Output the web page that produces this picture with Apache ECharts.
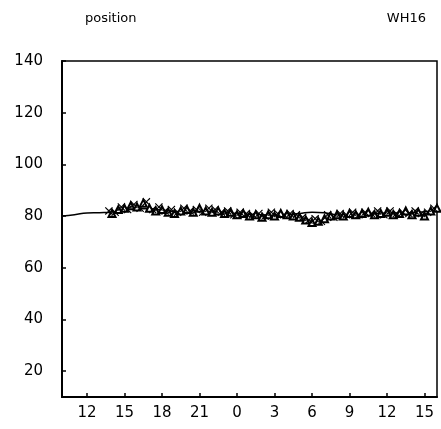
<!DOCTYPE html>
<html>
<head>
<meta charset="utf-8">
<script src="https://cdn.jsdelivr.net/npm/echarts@6/dist/echarts.min.js"></script>
<style>html,body{margin:0;padding:0;background:#fff}#c{width:441px;height:429px}</style>
</head>
<body>
<div id="c"></div>
<script>
// Tick labels
const xTickHours = [12, 15, 18, 21, 24, 27, 30, 33, 36, 39];
const yTickValues = [20, 40, 60, 80, 100, 120, 140];

// Fitted smooth curve (hour since start day 0:00, value)
const fitHours  = [10, 11, 12, 13, 14, 15, 16, 17, 18, 19, 20, 21, 22, 23, 24, 25, 26, 27, 28, 29, 30, 31, 32, 33, 34, 35, 36, 37, 38, 39, 40];
const fitValues = [80, 80.5, 81.2, 81.3, 81.5, 82.3, 82.8, 82.8, 82.3, 81.8, 81.8, 82, 81.8, 81.4, 81, 80.7, 80.5, 80.3, 80.5, 81, 81.5, 81.3, 80.5, 80.3, 80.6, 81, 81.2, 81.2, 81.3, 81.7, 82.3];

// Observations shown as triangles
const triHours = [14, 14.5, 15, 15.5, 16, 16.5, 17, 17.5, 18, 18.5, 19, 19.5, 20, 20.5, 21, 21.5, 22, 22.5, 23, 23.5, 24, 24.5, 25, 25.5, 26, 26.5, 27, 27.5, 28, 28.5, 29, 29.5, 30, 30.5, 31, 31.5, 32, 32.5, 33, 33.5, 34, 34.5, 35, 35.5, 36, 36.5, 37, 37.5, 38, 38.5, 39, 39.5, 40];
const triValues = [81, 82.5, 83, 84, 83.5, 85, 83, 82, 82.5, 81.5, 81, 82, 82.5, 81.5, 83, 82, 81.5, 82, 81, 81.5, 80.5, 81, 80, 80.5, 79.5, 80.5, 80, 81, 80.5, 80, 79.5, 78.5, 77.5, 78, 79, 80, 80.5, 80, 81, 80.5, 81, 81.5, 80.5, 81, 81.5, 80.5, 81, 82, 80.5, 81.5, 80, 82, 83];

// Observations shown as crosses
const crossHours = [13.75, 14.25, 14.75, 15.25, 15.75, 16.25, 16.75, 17.25, 17.75, 18.25, 18.75, 19.25, 19.75, 20.25, 20.75, 21.25, 21.75, 22.25, 22.75, 23.25, 23.75, 24.25, 24.75, 25.25, 25.75, 26.25, 26.75, 27.25, 27.75, 28.25, 28.75, 29.25, 29.75, 30.25, 30.75, 31.25, 31.75, 32.25, 32.75, 33.25, 33.75, 34.25, 34.75, 35.25, 35.75, 36.25, 36.75, 37.25, 37.75, 38.25, 38.75, 39.25, 39.75];
const crossValues = [82, 81.5, 83.5, 82.5, 84.5, 83, 85.5, 82.5, 83.5, 82, 82.5, 81.5, 83, 82, 82.5, 81.5, 83, 82.5, 81.5, 82, 80.5, 81.5, 81, 80.5, 81, 80, 81.5, 81, 80.5, 81, 80.5, 79.5, 78.5, 79, 78, 80.5, 79.5, 81, 80.5, 81.5, 80.5, 81.5, 81, 82, 80.5, 82, 81, 81.5, 81, 82, 81, 81.5, 83];

const zip = (a, b) => a.map((v, i) => [v, b[i]]);
const crossPath = 'path://M0,1L1,0L5,4L9,0L10,1L6,5L10,9L9,10L5,6L1,10L0,9L4,5Z';
const font = 'DejaVu Sans';

const chart = echarts.init(document.getElementById('c'), null, {renderer: 'canvas'});
chart.setOption({
  animation: false,
  backgroundColor: '#fff',
  title: [
    {text: 'position', left: 80, top: 7, textStyle: {fontFamily: font, fontSize: 13, fontWeight: 'normal', color: '#000'}},
    {text: 'WH16', right: 10, top: 7, textStyle: {fontFamily: font, fontSize: 13, fontWeight: 'normal', color: '#000'}}
  ],
  grid: {left: 62, right: 4, top: 61, bottom: 32, show: true, borderColor: '#000', borderWidth: 1.5, backgroundColor: 'transparent'},
  xAxis: {
    type: 'value', min: 10, max: 40,
    axisLine: {lineStyle: {color: '#000', width: 2}},
    axisTick: {show: true, customValues: xTickHours, length: 4, inside: true, lineStyle: {color: '#000', width: 1.5}},
    axisLabel: {customValues: xTickHours, formatter: v => String(Math.round(v) % 24), fontFamily: font, fontSize: 15, color: '#000', margin: 9},
    splitLine: {show: false}
  },
  yAxis: {
    type: 'value', min: 10, max: 140,
    axisLine: {show: true, lineStyle: {color: '#000', width: 2}},
    axisTick: {show: true, customValues: yTickValues, length: 4, inside: true, lineStyle: {color: '#000', width: 1.5}},
    axisLabel: {customValues: yTickValues, fontFamily: font, fontSize: 15, color: '#000', margin: 19},
    splitLine: {show: false}
  },
  series: [
    {type: 'line', data: zip(fitHours, fitValues), smooth: 0.5, showSymbol: false, lineStyle: {color: '#000', width: 1.5}, z: 3},
    {type: 'scatter', data: zip(triHours, triValues), symbol: 'emptyTriangle', symbolSize: 7, itemStyle: {color: '#000', borderColor: '#000', borderWidth: 1.5, opacity: 1}, z: 4},
    {type: 'scatter', data: zip(crossHours, crossValues), symbol: crossPath, symbolSize: 8, itemStyle: {color: '#000', opacity: 1}, z: 5}
  ]
});
</script>
</body>
</html>
